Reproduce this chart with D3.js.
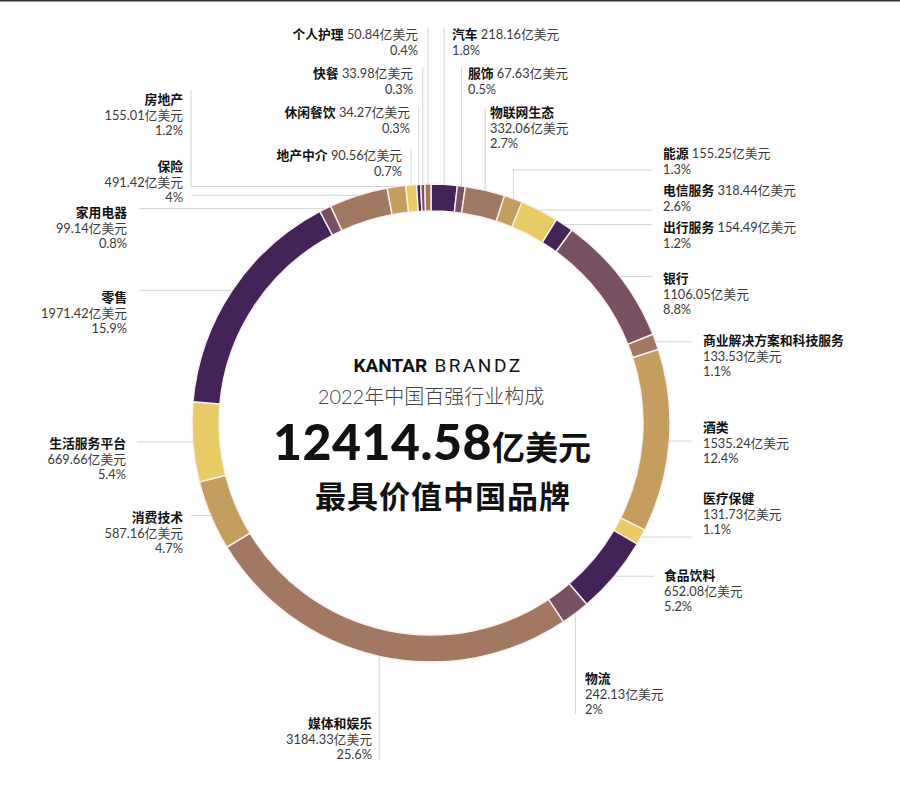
<!DOCTYPE html>
<html>
<head>
<meta charset="utf-8">
<script src="https://cdn.jsdelivr.net/npm/d3@7"></script>
<style>
  body { margin: 0; background: #fff; }
  svg { display: block; font-family: Lato, "Noto Sans CJK SC", sans-serif; }
</style>
</head>
<body>
<div id="container"></div>
<script>
// industry order, clockwise from 12 o'clock
const categories = ["汽车", "服饰", "物联网生态", "能源", "电信服务", "出行服务", "银行",
    "商业解决方案和科技服务", "酒类", "医疗保健", "食品饮料", "物流", "媒体和娱乐", "消费技术",
    "生活服务平台", "零售", "家用电器", "保险", "房地产", "地产中介", "休闲餐饮", "快餐", "个人护理"];
const values = [218.16, 67.63, 332.06, 155.25, 318.44, 154.49, 1106.05,
    133.53, 1535.24, 131.73, 652.08, 242.13, 3184.33, 587.16,
    669.66, 1971.42, 99.14, 491.42, 155.01, 90.56, 34.27, 33.98, 50.84];
const shares = [1.8, 0.5, 2.7, 1.3, 2.6, 1.2, 8.8,
    1.1, 12.4, 1.1, 5.2, 2, 25.6, 4.7,
    5.4, 15.9, 0.8, 4, 1.2, 0.7, 0.3, 0.3, 0.4];
const total = 12414.58;
const unit = "亿美元";

const palette = ["#432358", "#7a5063", "#a27862", "#c49d5f", "#e8ca67"];

// label placement (layout only)
const labelLayout = {
    "汽车":        {x: 452, y: 39,  anchor: "start", inline: true,  line: ["up", 28]},
    "服饰":        {x: 468, y: 78,  anchor: "start", inline: true,  line: ["up", 67]},
    "物联网生态":   {x: 490, y: 117, anchor: "start", inline: false, line: ["up", 107]},
    "能源":        {x: 663, y: 158, anchor: "start", inline: true,  line: ["upRight", 170, 652]},
    "电信服务":     {x: 663, y: 195, anchor: "start", inline: true,  line: ["h", 652]},
    "出行服务":     {x: 663, y: 232, anchor: "start", inline: true,  line: ["h", 652]},
    "银行":        {x: 663, y: 283, anchor: "start", inline: false, line: ["h", 652]},
    "商业解决方案和科技服务": {x: 703, y: 345, anchor: "start", inline: false, line: ["h", 692]},
    "酒类":        {x: 703, y: 432, anchor: "start", inline: false, line: ["h", 692]},
    "医疗保健":     {x: 703, y: 503, anchor: "start", inline: false, line: ["h", 692]},
    "食品饮料":     {x: 664, y: 580, anchor: "start", inline: false, line: ["h", 654]},
    "物流":        {x: 585, y: 683, anchor: "start", inline: false, line: ["down", 714]},
    "媒体和娱乐":   {x: 372, y: 728, anchor: "end",   inline: false, line: ["down", 760]},
    "消费技术":     {x: 183, y: 522, anchor: "end",   inline: false, line: ["h", 191]},
    "生活服务平台": {x: 126, y: 448, anchor: "end",   inline: false, line: ["h", 137]},
    "零售":        {x: 127, y: 302, anchor: "end",   inline: false, line: ["h", 139]},
    "家用电器":     {x: 127, y: 217, anchor: "end",   inline: false, line: ["h", 139]},
    "保险":        {x: 183, y: 171, anchor: "end",   inline: false, line: ["h", 192]},
    "房地产":       {x: 183, y: 104, anchor: "end",   inline: false, line: ["leftUp", 191, 90]},
    "地产中介":     {x: 402, y: 160, anchor: "end",   inline: true,  line: ["up", 149]},
    "休闲餐饮":     {x: 410, y: 117, anchor: "end",   inline: true,  line: ["up", 107]},
    "快餐":        {x: 413, y: 78,  anchor: "end",   inline: true,  line: ["up", 67]},
    "个人护理":     {x: 418, y: 39,  anchor: "end",   inline: true,  line: ["up", 28]}
};

const width = 900, height = 785;
const cx = 431, cy = 423;
const outerR = 239, innerR = 212;
const lh = 15.5;

const svg = d3.select("#container").append("svg")
    .attr("width", width)
    .attr("height", height);

svg.append("rect")
    .attr("width", width).attr("height", 1.5)
    .attr("fill", "#333");

const pie = d3.pie().sort(null).value(d => d);
const arcs = pie(values);
const arc = d3.arc().innerRadius(innerR).outerRadius(outerR);

const ring = svg.append("g").attr("transform", `translate(${cx},${cy})`);

ring.selectAll("path")
    .data(arcs)
    .enter().append("path")
        .attr("d", arc)
        .attr("fill", (d, i) => palette[i % palette.length])
        .attr("stroke", "#fbf1ee")
        .attr("stroke-width", 1.4);

// leader lines start at the outer edge of each slice's mid-angle
const edgePoint = function (d) {
    const a = (d.startAngle + d.endAngle) / 2;
    return [cx + outerR * Math.sin(a), cy - outerR * Math.cos(a)];
};

const leaders = svg.append("g")
    .attr("fill", "none")
    .attr("stroke", "#d4d4d4")
    .attr("stroke-width", 1);

const labels = svg.append("g")
    .attr("font-size", "12.8px");

arcs.forEach(function (d, i) {
    const name = categories[i];
    const lay = labelLayout[name];
    const [px, py] = edgePoint(d);
    const ln = lay.line;
    let path;
    if (ln[0] === "up" || ln[0] === "down") {
        path = `M${px},${py}V${ln[1]}`;
    } else if (ln[0] === "h") {
        path = `M${px},${py}H${ln[1]}`;
    } else if (ln[0] === "upRight") {
        path = `M${px},${py}V${ln[1]}H${ln[2]}`;
    } else {
        path = `M${px},${py}H${ln[1]}V${ln[2]}`;
    }
    leaders.append("path").attr("d", path);

    const valTxt = values[i].toFixed(2) + unit;
    const pctTxt = shares[i] + "%";

    // one text element per row
    const rows = lay.inline ? [[name, " " + valTxt], [null, pctTxt]]
                            : [[name, null], [null, valTxt], [null, pctTxt]];
    rows.forEach(function (r, k) {
        const t = labels.append("text")
            .attr("x", lay.x)
            .attr("y", lay.y + k * lh)
            .attr("text-anchor", lay.anchor)
            .attr("fill", "#3a3a3a");
        if (r[0]) {
            t.append("tspan")
                .attr("font-weight", 700)
                .attr("fill", "#111")
                .text(r[0]);
        }
        if (r[1]) {
            t.append("tspan").text(r[1]);
        }
    });
});

// centre titles
const title = svg.append("g").attr("text-anchor", "middle");

const brand = title.append("text")
    .attr("x", 438)
    .attr("y", 372)
    .attr("font-size", "19px")
    .attr("fill", "#111");
brand.append("tspan")
    .attr("font-weight", 700)
    .attr("font-family", "Roboto, 'Noto Sans', sans-serif")
    .text("KANTAR");
brand.append("tspan")
    .attr("font-family", "Roboto, 'Noto Sans', sans-serif")
    .attr("letter-spacing", "2.5px")
    .text(" BRANDZ");

title.append("text")
    .attr("x", 431)
    .attr("y", 404)
    .attr("font-size", "20px")
    .attr("font-weight", 300)
    .attr("fill", "#444")
    .text("2022年中国百强行业构成");

const big = title.append("text")
    .attr("x", 432)
    .attr("y", 460)
    .attr("font-weight", 700)
    .attr("fill", "#111");
big.append("tspan")
    .attr("font-size", "50px")
    .attr("font-weight", 900)
    .attr("letter-spacing", "0.5px")
    .text(total.toFixed(2));
big.append("tspan")
    .attr("font-size", "33px")
    .text(unit);

title.append("text")
    .attr("x", 443)
    .attr("y", 508)
    .attr("font-size", "31px")
    .attr("font-weight", 700)
    .attr("letter-spacing", "1px")
    .attr("fill", "#111")
    .text("最具价值中国品牌");
</script>
</body>
</html>
